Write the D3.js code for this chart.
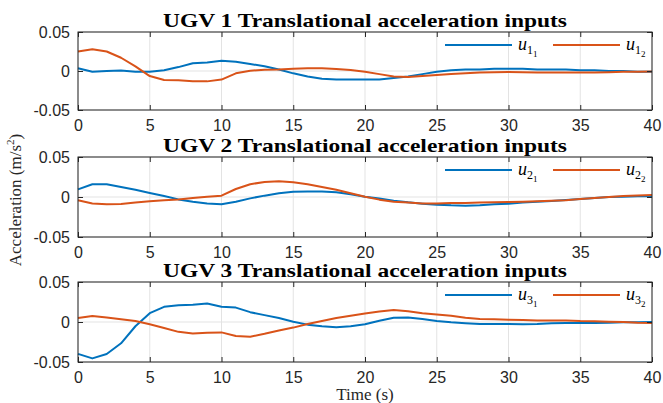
<!DOCTYPE html>
<html>
<head>
<meta charset="utf-8">
<script src="https://cdn.jsdelivr.net/npm/d3@7"></script>
<style>
  body { margin: 0; background: #fff; }
  svg { display: block; }
</style>
</head>
<body>
<svg id="chart" width="663" height="403"></svg>
<script>
// sample times (s)
const timeS = [0,1,2,3,4,5,6,7,8,9,10,11,12,13,14,15,16,17,18,19,20,21,22,23,24,25,26,27,28,29,30,31,32,33,34,35,36,37,38,39,40];

// UGV 1
const u1_1 = [0.0035,-0.001,0,0.0005,-0.001,-0.001,0.001,0.005,0.010,0.011,0.013,0.012,0.009,0.006,0.002,-0.003,-0.007,-0.010,-0.011,-0.011,-0.011,-0.011,-0.009,-0.007,-0.004,-0.001,0.001,0.002,0.002,0.003,0.003,0.003,0.002,0.002,0.002,0.001,0.001,0,0,-0.001,-0.001];
const u1_2 = [0.025,0.028,0.025,0.017,0.006,-0.0065,-0.0115,-0.012,-0.013,-0.0133,-0.011,-0.003,0.0004,0.0017,0.002,0.003,0.0034,0.0034,0.0026,0.0013,-0.0009,-0.004,-0.007,-0.0078,-0.0065,-0.005,-0.004,-0.003,-0.002,-0.0017,-0.0013,-0.0017,-0.002,-0.002,-0.002,-0.002,-0.002,-0.0017,-0.001,-0.001,-0.0005];

// UGV 2
const u2_1 = [0.0096,0.016,0.016,0.0125,0.009,0.005,0.0012,-0.003,-0.006,-0.008,-0.009,-0.006,-0.0017,0.0017,0.0046,0.0067,0.007,0.007,0.006,0.0033,0.0004,-0.002,-0.0046,-0.0067,-0.0083,-0.0096,-0.0104,-0.0108,-0.0104,-0.009,-0.0083,-0.007,-0.006,-0.005,-0.0038,-0.0025,-0.0012,0,0.0004,0.0008,0.0008];
const u2_2 = [-0.004,-0.008,-0.009,-0.0088,-0.007,-0.0054,-0.004,-0.003,-0.0013,0.0004,0.0017,0.010,0.016,0.0187,0.0196,0.0183,0.016,0.0125,0.009,0.0046,0.0004,-0.0033,-0.006,-0.007,-0.008,-0.008,-0.0075,-0.0075,-0.007,-0.0067,-0.0063,-0.006,-0.0054,-0.0046,-0.004,-0.0025,-0.0012,0,0.0012,0.002,0.0025];

// UGV 3
const u3_1 = [-0.0398,-0.0455,-0.040,-0.0266,-0.0053,0.011,0.019,0.021,0.0217,0.023,0.019,0.018,0.0123,0.0086,0.0049,0.0004,-0.0033,-0.0053,-0.0066,-0.0053,-0.0029,0.0016,0.0053,0.0057,0.0037,0.0012,-0.0004,-0.0016,-0.0025,-0.0025,-0.0025,-0.0029,-0.0025,-0.0016,-0.0012,-0.0012,-0.0012,-0.0008,-0.0004,-0.0004,0];
const u3_2 = [0.0049,0.0074,0.0057,0.0033,0.0012,-0.0029,-0.0074,-0.0123,-0.0143,-0.0135,-0.013,-0.0176,-0.0184,-0.0148,-0.0107,-0.007,-0.0025,0.0012,0.0049,0.0078,0.0107,0.013,0.015,0.0135,0.011,0.0094,0.0078,0.0053,0.0037,0.0033,0.0029,0.0025,0.002,0.002,0.002,0.0012,0.0008,0.0004,0,-0.0008,-0.0012];

const panelTitles = ["UGV 1 Translational acceleration inputs", "UGV 2 Translational acceleration inputs", "UGV 3 Translational acceleration inputs"];
const agentIds = ["1", "2", "3"];
const inputIds = ["1", "2"];
const panelSeries = [[u1_1, u1_2], [u2_1, u2_2], [u3_1, u3_2]];
const xTicks = [0,5,10,15,20,25,30,35,40];
const yTicks = [-0.05, 0, 0.05];
const yLabel = "Acceleration (m/s";
const xLabel = "Time (s)";

const colors = ["#0072BD", "#D95319"];
const serif = "'Liberation Serif', 'Times New Roman', serif";

const svg = d3.select("#chart");
const left = 78, right = 652;
const panelTops = [32, 157, 282];
const panelH = [78, 80, 80];

const x = d3.scaleLinear().domain([0, 40]).range([left, right]);

panelSeries.forEach((series, p) => {
  const top = panelTops[p], bottom = top + panelH[p];
  const y = d3.scaleLinear().domain([-0.05, 0.05]).range([bottom, top]);
  const g = svg.append("g");

  // grid
  g.selectAll(".gx").data(xTicks).enter().append("line")
    .attr("x1", d => x(d)).attr("x2", d => x(d))
    .attr("y1", top).attr("y2", bottom)
    .attr("stroke", "#e3e3e3").attr("stroke-width", 1);
  g.selectAll(".gy").data(yTicks).enter().append("line")
    .attr("x1", left).attr("x2", right)
    .attr("y1", d => y(d)).attr("y2", d => y(d))
    .attr("stroke", "#e3e3e3").attr("stroke-width", 1);

  // lines
  const line = d3.line().x((d, i) => x(timeS[i])).y(d => y(d));
  series.forEach((s, k) => {
    g.append("path").datum(s)
      .attr("fill", "none")
      .attr("stroke", colors[k])
      .attr("stroke-width", 2)
      .attr("stroke-linejoin", "round")
      .attr("d", line);
  });

  // axes (MATLAB style: ticks inward, box)
  const tickLen = 5;
  g.append("g").attr("transform", `translate(0,${bottom})`)
    .call(d3.axisBottom(x).tickValues(xTicks).tickSizeInner(-tickLen).tickSizeOuter(0).tickPadding(10))
    .call(a => a.select(".domain").remove());
  g.append("g").attr("transform", `translate(0,${top})`)
    .call(d3.axisTop(x).tickValues(xTicks).tickSizeInner(-tickLen).tickSizeOuter(0).tickFormat(""))
    .call(a => a.select(".domain").remove());
  g.append("g").attr("transform", `translate(${left},0)`)
    .call(d3.axisLeft(y).tickValues(yTicks).tickSizeInner(-tickLen).tickSizeOuter(0).tickPadding(8)
      .tickFormat(d => d === 0 ? "0" : d.toFixed(2)))
    .call(a => a.select(".domain").remove());
  g.append("g").attr("transform", `translate(${right},0)`)
    .call(d3.axisRight(y).tickValues(yTicks).tickSizeInner(-tickLen).tickSizeOuter(0).tickFormat(""))
    .call(a => a.select(".domain").remove());

  g.selectAll(".tick text")
    .attr("font-family", "'Liberation Sans', Arial, sans-serif")
    .attr("font-size", 16)
    .attr("fill", "#262626");
  g.selectAll(".tick line").attr("stroke", "#262626");

  g.append("rect")
    .attr("x", left).attr("y", top)
    .attr("width", right - left).attr("height", bottom - top)
    .attr("fill", "none").attr("stroke", "#262626").attr("stroke-width", 1);

  // title
  g.append("text")
    .attr("x", (left + right) / 2).attr("y", top - 5)
    .attr("text-anchor", "middle")
    .attr("font-family", serif)
    .attr("font-weight", "bold")
    .attr("font-size", 19)
    .attr("textLength", 404)
    .attr("lengthAdjust", "spacingAndGlyphs")
    .attr("fill", "#000")
    .text(panelTitles[p]);

  // legend
  const ly = top + 13;
  const legendX = [445, 553];
  series.forEach((s, k) => {
    g.append("line")
      .attr("x1", legendX[k]).attr("x2", legendX[k] + 67)
      .attr("y1", ly).attr("y2", ly)
      .attr("stroke", colors[k]).attr("stroke-width", 2);
    const t = g.append("text")
      .attr("x", legendX[k] + 73).attr("y", ly + 5)
      .attr("font-family", serif)
      .attr("fill", "#000");
    t.append("tspan").attr("font-style", "italic").attr("font-size", 18).text("u");
    t.append("tspan").attr("font-size", 12).attr("dy", 4).text(agentIds[p]);
    t.append("tspan").attr("font-size", 9).attr("dy", 3).text(inputIds[k]);
  });
});

// axis labels
const yl = svg.append("text")
  .attr("transform", "translate(21,200) rotate(-90)")
  .attr("text-anchor", "middle")
  .attr("font-family", serif)
  .attr("font-size", 17)
  .attr("fill", "#262626");
yl.append("tspan").text(yLabel);
yl.append("tspan").attr("font-size", 11).attr("dy", -7).text("2");
yl.append("tspan").attr("dy", 7).text(")");

svg.append("text")
  .attr("x", (left + right) / 2).attr("y", 400)
  .attr("text-anchor", "middle")
  .attr("font-family", serif)
  .attr("font-size", 17)
  .attr("fill", "#262626")
  .text(xLabel);
</script>
</body>
</html>
